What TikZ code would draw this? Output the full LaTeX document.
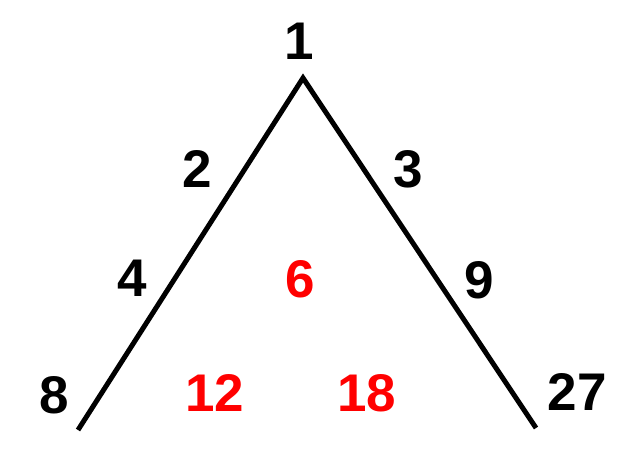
\documentclass[tikz,border=0pt]{standalone}
\usepackage{fontspec}
\setmainfont{Liberation Sans}
\begin{document}
\begin{tikzpicture}[x=1pt,y=-1pt,
  num/.style={inner sep=0pt,font=\fontsize{53}{53}\selectfont\bfseries},
  blk/.style={num,text=black},
  redn/.style={num,text=red},
  leg/.style={line width=5pt,line join=miter,line cap=butt}]
\useasboundingbox (0,0) rectangle (631,462);
\coordinate (lend) at (78,430);
\coordinate (apex) at (303,78);
\coordinate (rend) at (536,428);
\draw[leg] (lend) -- (apex) -- (rend);
\node[blk] (n1) at (299,41) {1};
\node[blk] (n2) at (197,169) {2};
\node[blk] (n3) at (408,169) {3};
\node[blk] (n4) at (132,278) {4};
\node[blk] (n9) at (479,280) {9};
\node[blk] (n8) at (54,395) {8};
\node[blk] (n27) at (577,392) {27};
\node[redn] (n6) at (300,279) {6};
\node[redn] (n12) at (215,393) {12};
\node[redn] (n18) at (367,393) {18};
\end{tikzpicture}
\end{document}
